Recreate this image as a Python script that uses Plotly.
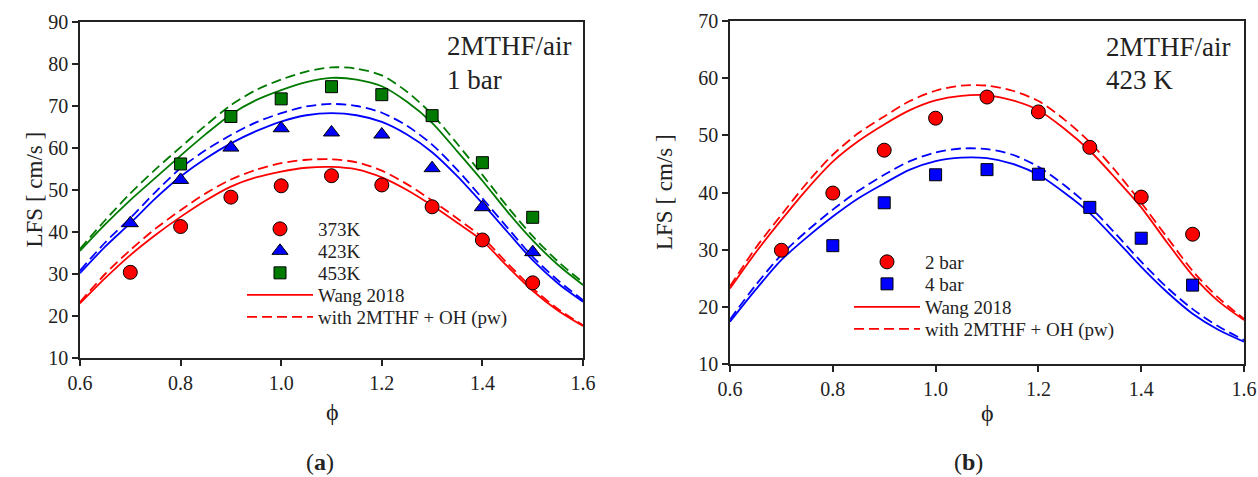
import plotly.graph_objects as go

# ---------------- data ----------------
phi_exp_a = [0.7, 0.8, 0.9, 1.0, 1.1, 1.2, 1.3, 1.4, 1.5]
lfs_373K = [30.4, 41.3, 48.3, 51.0, 53.4, 51.2, 46.0, 38.1, 27.9]
lfs_423K = [42.1, 52.4, 60.1, 64.7, 63.7, 63.2, 55.2, 45.9, 35.2]
phi_exp_453 = [0.8, 0.9, 1.0, 1.1, 1.2, 1.3, 1.4, 1.5]
lfs_453K = [56.2, 67.5, 71.7, 74.6, 72.7, 67.7, 56.5, 43.5]

phi_model = [0.6, 0.65, 0.7, 0.75, 0.8, 0.85, 0.9, 0.95, 1.0, 1.05, 1.1,
             1.15, 1.2, 1.25, 1.3, 1.35, 1.4, 1.45, 1.5, 1.55, 1.6]

wang_373K = [23.0, 29.0, 34.5, 39.3, 43.6, 47.5, 50.8, 53.0, 54.4, 55.3, 55.5,
             54.9, 53.0, 50.0, 46.3, 42.2, 37.9, 31.8, 26.0, 21.3, 17.6]
pw_373K = [23.3, 30.0, 35.7, 40.8, 45.2, 49.2, 52.5, 54.8, 56.4, 57.2, 57.3,
           56.6, 54.6, 51.4, 47.5, 43.2, 38.7, 32.5, 26.6, 21.7, 17.8]
wang_423K = [30.2, 36.5, 42.1, 48.0, 53.2, 57.5, 61.1, 64.0, 66.3, 67.8, 68.3,
             67.8, 66.2, 63.2, 59.0, 53.3, 46.8, 40.0, 33.3, 27.8, 23.4]
pw_423K = [30.8, 37.5, 43.3, 49.5, 55.2, 59.5, 63.1, 66.1, 68.3, 69.9, 70.5,
           70.0, 68.4, 65.3, 60.8, 54.8, 48.0, 41.0, 34.1, 28.5, 23.8]
wang_453K = [35.5, 41.8, 47.6, 52.9, 58.2, 63.3, 68.0, 71.4, 73.8, 75.7, 76.7,
             76.3, 74.7, 71.0, 66.0, 59.2, 52.2, 44.8, 38.0, 32.2, 27.4]
pw_453K = [36.0, 42.8, 49.2, 54.9, 60.2, 65.4, 70.2, 73.8, 76.3, 78.2, 79.2,
           78.9, 77.3, 73.4, 68.0, 61.0, 53.6, 46.0, 39.0, 33.0, 28.0]

phi_exp_2bar = [0.7, 0.8, 0.9, 1.0, 1.1, 1.2, 1.3, 1.4, 1.5]
lfs_2bar = [29.9, 39.9, 47.4, 53.0, 56.7, 54.1, 47.9, 39.2, 32.7]
phi_exp_4bar = [0.8, 0.9, 1.0, 1.1, 1.2, 1.3, 1.4, 1.5]
lfs_4bar = [30.7, 38.2, 43.1, 44.0, 43.2, 37.4, 32.0, 23.8]

wang_2bar = [23.2, 29.5, 35.2, 40.6, 45.4, 49.0, 51.9, 54.4, 56.1, 56.9, 57.0,
             56.1, 54.4, 51.2, 47.3, 42.5, 37.4, 31.3, 25.5, 21.0, 17.7]
pw_2bar = [23.6, 30.3, 36.1, 41.7, 46.6, 50.4, 53.3, 56.0, 57.8, 58.7, 58.7,
           57.8, 56.0, 52.8, 48.8, 43.8, 38.2, 32.2, 26.3, 21.6, 17.9]
wang_4bar = [17.4, 23.0, 28.2, 32.2, 35.8, 39.0, 41.6, 44.0, 45.5, 46.1, 46.0,
             45.0, 43.1, 40.0, 36.4, 31.8, 27.0, 22.6, 18.8, 16.0, 13.9]
pw_4bar = [17.8, 23.8, 29.1, 33.3, 37.0, 40.3, 43.1, 45.5, 47.0, 47.7, 47.6,
           46.6, 44.5, 41.3, 37.5, 32.8, 27.9, 23.4, 19.6, 16.6, 14.2]

x_ticks = [0.6, 0.8, 1.0, 1.2, 1.4, 1.6]
x_ticklabels = ["0.6", "0.8", "1.0", "1.2", "1.4", "1.6"]
y_ticks_a = [10, 20, 30, 40, 50, 60, 70, 80, 90]
y_ticks_b = [10, 20, 30, 40, 50, 60, 70]

RED = "#FF0000"
BLUE = "#0000FF"
GREEN = "#007A00"
FONT = "Liberation Serif"
DASH = "10px,5px"
LW = 1.8

W, H = 1258, 477
def px(v): return v / W
def py(v): return 1 - v / H

fig = go.Figure()

def line(x, y, color, dash, xa, ya):
    fig.add_trace(go.Scatter(x=x, y=y, mode="lines", line=dict(color=color, width=LW, dash=dash, shape="spline", smoothing=0.8),
                             xaxis=xa, yaxis=ya, showlegend=False, hoverinfo="skip"))

def pts(x, y, color, symbol, size, name, xa, ya, legend):
    fig.add_trace(go.Scatter(x=x, y=y, mode="markers", name=name,
                             marker=dict(color=color, symbol=symbol, size=size, line=dict(color="black", width=1)),
                             xaxis=xa, yaxis=ya, legend=legend))

def legline(name, dash, xa, ya, legend):
    fig.add_trace(go.Scatter(x=[None], y=[None], mode="lines", name=name, line=dict(color=RED, width=LW, dash=dash),
                             xaxis=xa, yaxis=ya, legend=legend))

# ---- panel a ----
for w, p, c in [(wang_373K, pw_373K, RED), (wang_423K, pw_423K, BLUE), (wang_453K, pw_453K, GREEN)]:
    line(phi_model, w, c, "solid", "x", "y")
    line(phi_model, p, c, DASH, "x", "y")
pts(phi_exp_a, lfs_373K, RED, "circle", 14, "373K", "x", "y", "legend")
pts(phi_exp_a, lfs_423K, BLUE, "triangle-up", 14, "423K", "x", "y", "legend2")
pts(phi_exp_453, lfs_453K, GREEN, "square", 12, "453K", "x", "y", "legend3")
legline("Wang 2018", "solid", "x", "y", "legend4")
legline("with 2MTHF + OH (pw)", DASH, "x", "y", "legend5")

# ---- panel b ----
for w, p, c in [(wang_2bar, pw_2bar, RED), (wang_4bar, pw_4bar, BLUE)]:
    line(phi_model, w, c, "solid", "x2", "y2")
    line(phi_model, p, c, DASH, "x2", "y2")
pts(phi_exp_2bar, lfs_2bar, RED, "circle", 14, "2 bar", "x2", "y2", "legend6")
pts(phi_exp_4bar, lfs_4bar, BLUE, "square", 12, "4 bar", "x2", "y2", "legend7")
legline("Wang 2018", "solid", "x2", "y2", "legend8")
legline("with 2MTHF + OH (pw)", DASH, "x2", "y2", "legend9")

axis_common = dict(showline=True, linecolor="#222", linewidth=1.5, mirror=True, ticks="outside", ticklen=6,
                   tickcolor="#222", tickwidth=1.5, showgrid=False, zeroline=False, automargin=False,
                   tickfont=dict(family=FONT, size=20, color="#222"))

def leg(x, y):
    return dict(x=px(x), y=py(y), xanchor="left", yanchor="middle", bgcolor="rgba(0,0,0,0)",
                font=dict(family=FONT, size=19, color="#222"), itemwidth=66, tracegroupgap=0)

fig.update_layout(
    width=W, height=H, margin=dict(l=0, r=0, t=0, b=0),
    paper_bgcolor="white", plot_bgcolor="white",
    font=dict(family=FONT, color="#222"),
    xaxis=dict(domain=[px(80), px(583)], range=[0.6, 1.6], tickvals=x_ticks, ticktext=x_ticklabels,
               anchor="y", **axis_common),
    yaxis=dict(domain=[py(358), py(22)], range=[10, 90], tickvals=y_ticks_a, anchor="x", **axis_common),
    xaxis2=dict(domain=[px(730), px(1244)], range=[0.6, 1.6], tickvals=x_ticks, ticktext=x_ticklabels,
                anchor="y2", **axis_common),
    yaxis2=dict(domain=[py(364), py(21)], range=[10, 70], tickvals=y_ticks_b, anchor="x2", **axis_common),
    legend=leg(242, 229), legend2=leg(242, 251), legend3=leg(242, 273),
    legend4=leg(242, 295), legend5=leg(242, 317),
    legend6=leg(849, 262), legend7=leg(849, 284), legend8=leg(849, 307), legend9=leg(849, 329),
    showlegend=True,
)

ann = []
def text(x, y, s, size, xanchor="center"):
    ann.append(dict(x=px(x), y=py(y), xref="paper", yref="paper", text=s, showarrow=False,
                    xanchor=xanchor, yanchor="middle", font=dict(family=FONT, size=size, color="#222")))

text(445, 46, "2MTHF/air", 27, "left")
text(445, 80, "1 bar", 27, "left")
text(1104, 47, "2MTHF/air", 27, "left")
text(1104, 80, "423 K", 27, "left")
text(332, 412, "ϕ", 24)
text(987, 413, "ϕ", 24)
text(320, 462, "(<b>a</b>)", 24)
text(968, 462, "(<b>b</b>)", 24)
ann.append(dict(x=px(19), y=py(190), xref="paper", yref="paper", text="LFS [ cm/s ]", showarrow=False,
                textangle=-90, font=dict(family=FONT, size=23, color="#222")))
ann.append(dict(x=px(664), y=py(192), xref="paper", yref="paper", text="LFS [ cm/s ]", showarrow=False,
                textangle=-90, font=dict(family=FONT, size=23, color="#222")))
fig.update_layout(annotations=ann)

fig.write_html("out.html", config={"displayModeBar": False},
               post_script="document.body.style.margin='0px';")
